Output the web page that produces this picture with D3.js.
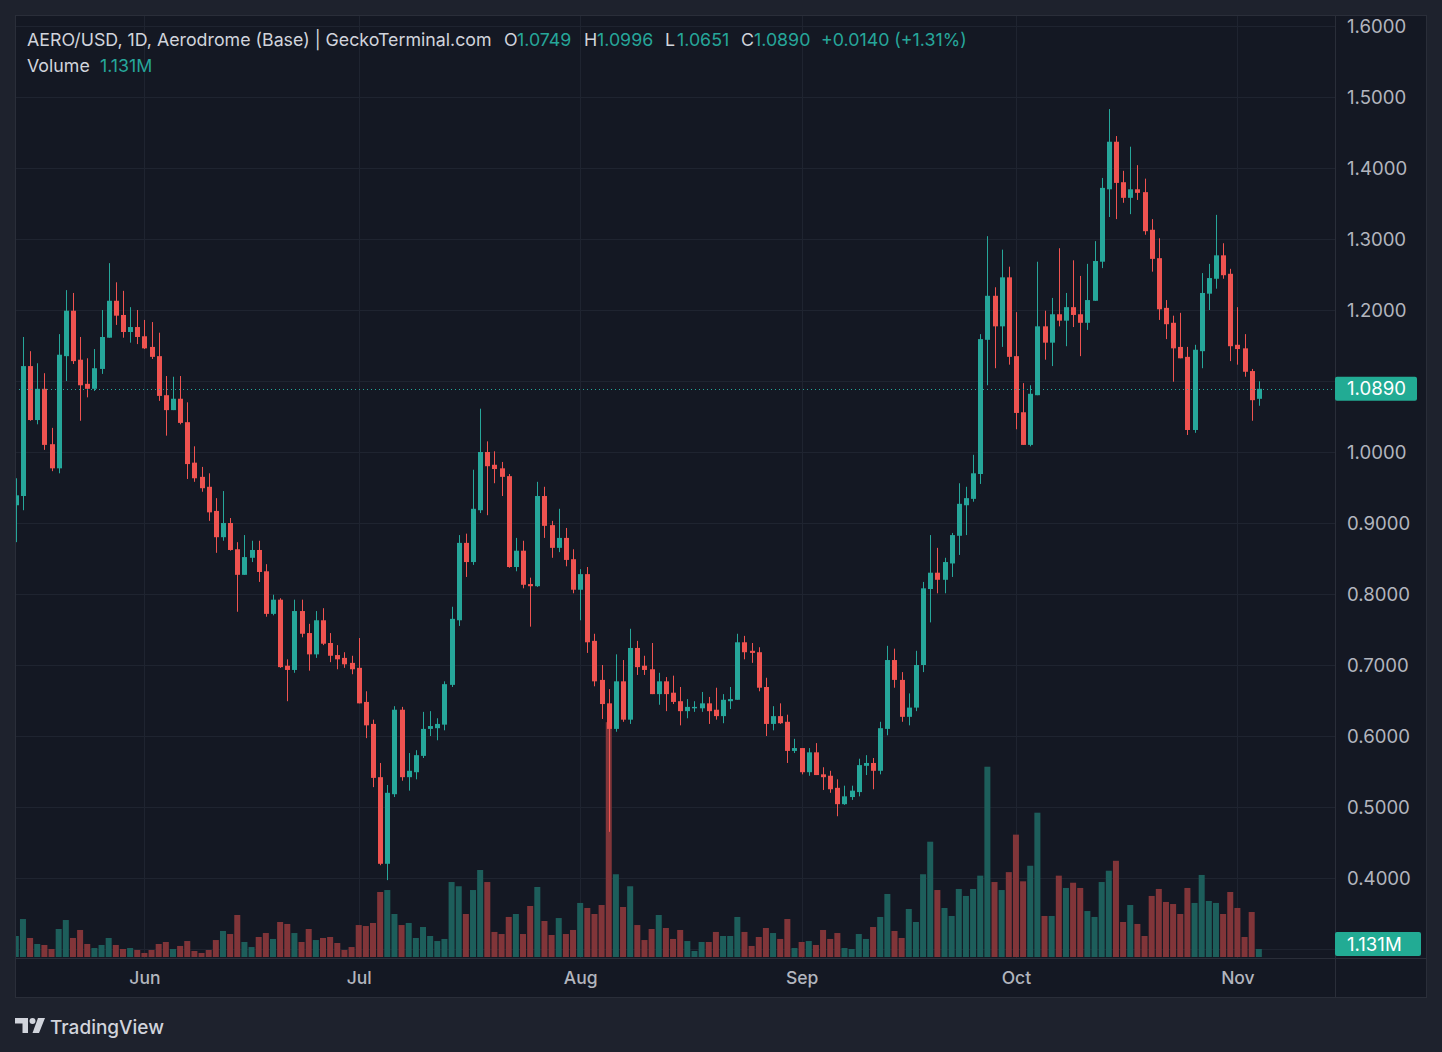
<!DOCTYPE html>
<html><head><meta charset="utf-8">
<script src="https://cdn.jsdelivr.net/npm/d3@7"></script>
<style>html,body{margin:0;padding:0;background:#1e222d;}svg{display:block;}</style>
</head><body>
<svg id="c" width="1442" height="1052"></svg>
<script>
// ---- data (AERO/USD daily, 14 May .. 4 Nov) ----
const startDate = "2024-05-14";
const open = [0.925,0.938,1.121,1.045,1.089,1.011,0.977,1.135,1.199,1.130,1.096,1.089,1.117,1.161,1.213,1.193,1.169,1.176,1.163,1.148,1.135,1.080,1.059,1.075,1.042,0.985,0.965,0.951,0.917,0.880,0.900,0.863,0.827,0.851,0.862,0.832,0.772,0.792,0.699,0.693,0.776,0.745,0.715,0.763,0.731,0.714,0.710,0.703,0.696,0.648,0.617,0.542,0.420,0.518,0.637,0.542,0.549,0.572,0.610,0.611,0.616,0.672,0.763,0.872,0.845,0.918,1.000,0.982,0.977,0.966,0.838,0.861,0.814,0.811,0.938,0.897,0.865,0.879,0.849,0.806,0.828,0.734,0.679,0.646,0.610,0.677,0.623,0.724,0.699,0.694,0.659,0.677,0.661,0.649,0.635,0.639,0.639,0.646,0.637,0.628,0.649,0.651,0.732,0.720,0.718,0.669,0.617,0.628,0.620,0.579,0.583,0.549,0.577,0.546,0.544,0.527,0.504,0.514,0.521,0.558,0.562,0.551,0.610,0.707,0.679,0.627,0.640,0.700,0.807,0.830,0.820,0.843,0.882,0.925,0.934,0.969,1.158,1.220,1.177,1.246,1.135,1.056,1.010,1.080,1.177,1.154,1.194,1.185,1.204,1.194,1.182,1.213,1.268,1.370,1.437,1.380,1.358,1.370,1.366,1.313,1.273,1.203,1.182,1.148,1.134,1.031,1.142,1.223,1.244,1.277,1.251,1.151,1.146,1.114,1.0749];
const high = [0.963,1.162,1.142,1.125,1.111,1.034,1.166,1.228,1.224,1.162,1.132,1.145,1.200,1.266,1.239,1.227,1.204,1.200,1.186,1.183,1.168,1.107,1.106,1.107,1.070,1.008,0.979,0.970,0.935,0.945,0.907,0.873,0.883,0.875,0.875,0.842,0.799,0.794,0.708,0.792,0.792,0.758,0.776,0.780,0.745,0.728,0.718,0.713,0.738,0.663,0.623,0.562,0.531,0.642,0.641,0.576,0.580,0.634,0.635,0.625,0.677,0.782,0.883,0.885,0.975,1.061,1.015,1.001,0.986,0.969,0.879,0.875,0.823,0.958,0.951,0.903,0.920,0.893,0.863,0.835,0.838,0.744,0.700,0.666,0.715,0.707,0.751,0.734,0.713,0.731,0.689,0.683,0.685,0.669,0.652,0.649,0.662,0.655,0.668,0.659,0.669,0.744,0.741,0.731,0.725,0.682,0.642,0.646,0.630,0.596,0.583,0.583,0.590,0.556,0.551,0.539,0.530,0.530,0.568,0.573,0.569,0.620,0.727,0.723,0.690,0.660,0.720,0.817,0.883,0.865,0.851,0.886,0.956,0.951,0.996,1.166,1.304,1.232,1.285,1.261,1.197,1.097,1.094,1.268,1.199,1.217,1.287,1.224,1.270,1.248,1.265,1.297,1.386,1.483,1.445,1.396,1.430,1.404,1.385,1.328,1.301,1.214,1.192,1.196,1.148,1.151,1.252,1.265,1.334,1.294,1.258,1.204,1.166,1.117,1.0996];
const low = [0.873,0.918,1.044,1.039,1.003,0.973,0.970,1.100,1.124,1.044,1.077,1.086,1.110,1.161,1.179,1.161,1.154,1.152,1.145,1.131,1.072,1.023,1.059,1.039,0.962,0.958,0.944,0.903,0.858,0.875,0.861,0.775,0.827,0.845,0.817,0.768,0.770,0.696,0.649,0.689,0.739,0.692,0.710,0.728,0.704,0.694,0.696,0.687,0.646,0.597,0.528,0.418,0.397,0.514,0.537,0.523,0.539,0.569,0.600,0.594,0.608,0.669,0.755,0.824,0.841,0.914,0.911,0.956,0.938,0.837,0.832,0.808,0.754,0.810,0.879,0.851,0.859,0.839,0.801,0.763,0.717,0.670,0.624,0.465,0.606,0.620,0.617,0.686,0.686,0.659,0.644,0.635,0.645,0.615,0.625,0.634,0.634,0.617,0.623,0.618,0.638,0.651,0.708,0.703,0.663,0.600,0.608,0.617,0.562,0.576,0.546,0.544,0.545,0.524,0.520,0.487,0.503,0.510,0.515,0.545,0.525,0.546,0.601,0.668,0.620,0.615,0.635,0.690,0.760,0.801,0.801,0.824,0.855,0.883,0.930,0.955,1.094,1.118,1.148,1.123,1.032,1.010,1.008,1.080,1.130,1.121,1.177,1.149,1.176,1.135,1.172,1.213,1.259,1.331,1.328,1.351,1.335,1.355,1.306,1.254,1.186,1.159,1.099,1.132,1.024,1.027,1.118,1.200,1.230,1.244,1.128,1.123,1.106,1.044,1.0651];
const close = [0.939,1.121,1.045,1.089,1.010,0.977,1.137,1.199,1.128,1.094,1.089,1.118,1.162,1.213,1.192,1.169,1.176,1.162,1.146,1.134,1.079,1.059,1.075,1.041,0.983,0.963,0.949,0.915,0.880,0.900,0.862,0.827,0.852,0.862,0.831,0.772,0.792,0.697,0.693,0.776,0.744,0.715,0.763,0.730,0.713,0.708,0.701,0.694,0.646,0.615,0.541,0.420,0.520,0.637,0.542,0.551,0.573,0.610,0.614,0.617,0.673,0.765,0.872,0.845,0.920,1.000,0.980,0.976,0.965,0.838,0.861,0.813,0.811,0.938,0.896,0.865,0.879,0.848,0.806,0.828,0.732,0.677,0.645,0.610,0.677,0.623,0.724,0.697,0.693,0.659,0.677,0.659,0.648,0.635,0.641,0.641,0.646,0.635,0.628,0.651,0.652,0.732,0.718,0.717,0.668,0.617,0.628,0.618,0.579,0.583,0.549,0.577,0.545,0.542,0.525,0.504,0.515,0.523,0.559,0.562,0.551,0.611,0.707,0.679,0.627,0.640,0.700,0.808,0.830,0.820,0.845,0.883,0.927,0.935,0.970,1.159,1.220,1.177,1.246,1.134,1.055,1.010,1.082,1.177,1.154,1.194,1.185,1.204,1.193,1.182,1.214,1.269,1.372,1.437,1.379,1.358,1.370,1.365,1.311,1.272,1.201,1.180,1.146,1.132,1.031,1.144,1.224,1.245,1.277,1.249,1.149,1.145,1.113,1.073,1.0890];
const volumeM = [2.97,5.37,2.69,1.84,1.70,1.13,3.96,5.23,2.69,3.82,1.84,1.27,1.70,2.69,1.70,1.13,1.27,0.99,0.57,0.99,1.84,2.12,1.13,1.56,2.26,0.85,0.57,0.99,2.40,3.68,3.25,5.94,2.12,1.41,2.83,3.39,2.55,4.95,4.67,3.39,2.12,3.96,2.40,2.69,2.83,1.98,0.99,1.41,4.52,4.38,4.81,9.19,9.47,6.08,4.52,4.81,2.69,4.24,2.97,2.26,2.55,10.6,10.0,6.08,9.47,12.3,10.6,3.54,3.25,5.66,6.08,3.25,7.21,9.90,5.09,3.11,5.51,3.25,3.82,7.64,6.93,6.08,7.35,33.2,11.7,7.07,10.0,4.52,2.40,3.96,5.94,4.10,2.55,3.82,2.26,0.85,2.12,2.12,3.54,2.97,2.97,5.66,3.54,1.56,2.83,4.10,3.39,2.55,5.37,1.27,2.12,2.26,1.70,3.82,2.55,3.39,1.27,1.13,3.25,2.55,4.24,5.66,8.91,3.68,2.69,6.79,4.95,11.7,16.3,9.47,6.93,5.80,9.62,8.63,9.62,11.5,26.9,10.6,9.47,12.0,17.3,10.7,12.9,20.4,5.80,5.80,11.5,9.76,10.5,9.76,6.50,5.66,10.6,12.2,13.6,4.95,7.35,4.67,2.97,8.63,9.62,7.78,7.49,6.08,9.76,7.64,11.6,7.92,7.64,6.08,9.19,6.93,2.83,6.36,1.131];
const monthTicks = ["2024-06-01","2024-07-01","2024-08-01","2024-09-01","2024-10-01","2024-11-01"];
const monthLabels = ["Jun","Jul","Aug","Sep","Oct","Nov"];
const priceTicks = [0.4,0.5,0.6,0.7,0.8,0.9,1.0,1.1,1.2,1.3,1.4,1.5,1.6];
const gridTicks = [0.3,0.4,0.5,0.6,0.7,0.8,0.9,1.0,1.1,1.2,1.3,1.4,1.5,1.6];
const lastPrice = 1.0890, lastVolumeLabel = "1.131M";

// ---- layout ----
const W = 1442, H = 1052;
const pane = {l:15, t:15, r:1335, b:958};
const UP = "#26a69a", DOWN = "#ef5350";
const UPV = "#1d5e5b", DOWNV = "#813539";
const FONT = "Inter, 'Noto Sans', Roboto, sans-serif";

const parse = d3.utcParse("%Y-%m-%d");
const d0 = parse(startDate);
const data = open.map((o,i)=>({date:d3.utcDay.offset(d0,i), o, h:high[i], l:low[i], c:close[i], v:volumeM[i]}));

const x = d3.scaleUtc().domain([parse("2024-06-01"), parse("2024-11-01")]).range([144.4, 1237.4]);
const y = d3.scaleLinear().domain([0.3, 1.6]).range([949, 26]);
const yv = d3.scaleLinear().domain([0, 30]).range([957, 957 - 212.2]);

const svg = d3.select("#c");
svg.append("rect").attr("width",W).attr("height",H).attr("fill","#1e222d");
svg.append("rect").attr("x",15).attr("y",15).attr("width",1412).attr("height",983).attr("fill","#141823");

const defs = svg.append("defs");
defs.append("clipPath").attr("id","clipPane").append("rect")
  .attr("x",pane.l).attr("y",pane.t).attr("width",pane.r-pane.l).attr("height",pane.b-pane.t);
defs.append("clipPath").attr("id","clipTick").append("rect")
  .attr("x",1335).attr("y",0).attr("width",92).attr("height",y(lastPrice)-12);

// grid
const grid = svg.append("g").attr("clip-path","url(#clipPane)");
grid.selectAll("line.h").data(gridTicks).join("line")
  .attr("x1",pane.l).attr("x2",pane.r).attr("y1",d=>Math.round(y(d))+0.5).attr("y2",d=>Math.round(y(d))+0.5)
  .attr("stroke","#1f2430").attr("stroke-width",1);
grid.selectAll("line.v").data(monthTicks).join("line")
  .attr("y1",pane.t).attr("y2",pane.b).attr("x1",d=>Math.round(x(parse(d)))+0.5).attr("x2",d=>Math.round(x(parse(d)))+0.5)
  .attr("stroke","#1f2430").attr("stroke-width",1);

const plot = svg.append("g").attr("clip-path","url(#clipPane)");
// volume
plot.selectAll("rect.vol").data(data).join("rect")
  .attr("x",d=>x(d.date)-3).attr("width",6)
  .attr("y",d=>yv(d.v)).attr("height",d=>yv(0)-yv(d.v))
  .attr("fill",d=>d.c>=d.o?UPV:DOWNV);
// wicks
plot.selectAll("line.wick").data(data).join("line")
  .attr("x1",d=>Math.round(x(d.date))+0.5).attr("x2",d=>Math.round(x(d.date))+0.5)
  .attr("y1",d=>y(d.h)).attr("y2",d=>y(d.l))
  .attr("stroke",d=>d.c>=d.o?UP:DOWN).attr("stroke-width",1);
// bodies
plot.selectAll("rect.body").data(data).join("rect")
  .attr("x",d=>Math.round(x(d.date))-2).attr("width",5)
  .attr("y",d=>y(Math.max(d.o,d.c)))
  .attr("height",d=>Math.max(1,Math.abs(y(d.o)-y(d.c))))
  .attr("fill",d=>d.c>=d.o?UP:DOWN);

// last price dotted line
svg.append("line").attr("x1",pane.l).attr("x2",pane.r)
  .attr("y1",Math.round(y(lastPrice))+0.5).attr("y2",Math.round(y(lastPrice))+0.5)
  .attr("stroke",UP).attr("stroke-width",1).attr("stroke-dasharray","1 3");

// pane borders
svg.append("line").attr("x1",pane.l).attr("x2",1427).attr("y1",958.5).attr("y2",958.5).attr("stroke","#2a2e39");
svg.append("line").attr("x1",1335.5).attr("x2",1335.5).attr("y1",15).attr("y2",998).attr("stroke","#2a2e39");
svg.append("rect").attr("x",15.5).attr("y",15.5).attr("width",1411).attr("height",982).attr("fill","none").attr("stroke","#2a2e39");

// price axis (the 1.1000 label is partly hidden behind the last-price tag, as in TradingView)
const yAxis = d3.axisRight(y).tickValues(priceTicks).tickFormat(d3.format(".4f")).tickSize(0).tickPadding(0);
const ya = svg.append("g").attr("transform","translate(1347,0)").call(yAxis);
ya.select(".domain").remove();
ya.selectAll("text").attr("fill","#b2b5be").attr("font-size",18.6).attr("font-family",FONT).attr("dy","0.35em");
ya.selectAll(".tick").filter(d=>Math.abs(d-1.1)<1e-9).attr("clip-path","url(#clipTick)");

// time axis
const xAxis = d3.axisBottom(x).tickValues(monthTicks.map(parse)).tickFormat((d,i)=>monthLabels[i]).tickSize(0).tickPadding(0);
const xa = svg.append("g").attr("transform","translate(0,978)").call(xAxis);
xa.select(".domain").remove();
xa.selectAll("text").attr("fill","#b2b5be").attr("font-size",17.5).attr("font-family",FONT).attr("dy","0.35em").attr("font-weight",500);

// price label boxes
function tag(yc, label, w){
  const g = svg.append("g");
  g.append("rect").attr("x",1335).attr("y",yc-12).attr("width",w).attr("height",24).attr("rx",2).attr("fill","#22ab94");
  g.append("text").attr("x",1347).attr("y",yc).attr("dy","0.35em").attr("fill","#ffffff")
    .attr("font-size",18.6).attr("font-family",FONT).text(label);
}
tag(y(lastPrice), d3.format(".4f")(lastPrice), 82);
tag(944, lastVolumeLabel, 86);

// header legend
const hdr = svg.append("g").attr("font-family",FONT).attr("font-size",17.8).attr("dominant-baseline","central");
const items = [
  [27,"AERO/USD, 1D, Aerodrome (Base) | GeckoTerminal.com","#d1d4dc"],
  [504,"O","#d1d4dc"],[517,"1.0749",UP],
  [584,"H","#d1d4dc"],[597,"1.0996",UP],
  [665,"L","#d1d4dc"],[677,"1.0651",UP],
  [741,"C","#d1d4dc"],[754,"1.0890",UP],
  [821,"+0.0140 (+1.31%)",UP]
];
items.forEach(([px,t,col])=>hdr.append("text").attr("x",px).attr("y",39).attr("fill",col).text(t));
hdr.append("text").attr("x",27).attr("y",65).attr("fill","#d1d4dc").text("Volume");
hdr.append("text").attr("x",100).attr("y",65).attr("fill",UP).text("1.131M");

// TradingView logo
const logo = svg.append("g").attr("fill","#d1d4dc");
logo.append("path").attr("d","M15,1018 H28 V1033 H22.5 V1023.5 H15 Z");
logo.append("circle").attr("cx",32.5).attr("cy",1021).attr("r",3);
logo.append("path").attr("d","M38,1018 H45 L39,1033 H32.5 Z");
svg.append("text").attr("x",50).attr("y",1027).attr("dominant-baseline","central")
  .attr("fill","#d1d4dc").attr("font-family",FONT).attr("font-size",19).attr("font-weight",500).text("TradingView");
</script>
</body></html>
